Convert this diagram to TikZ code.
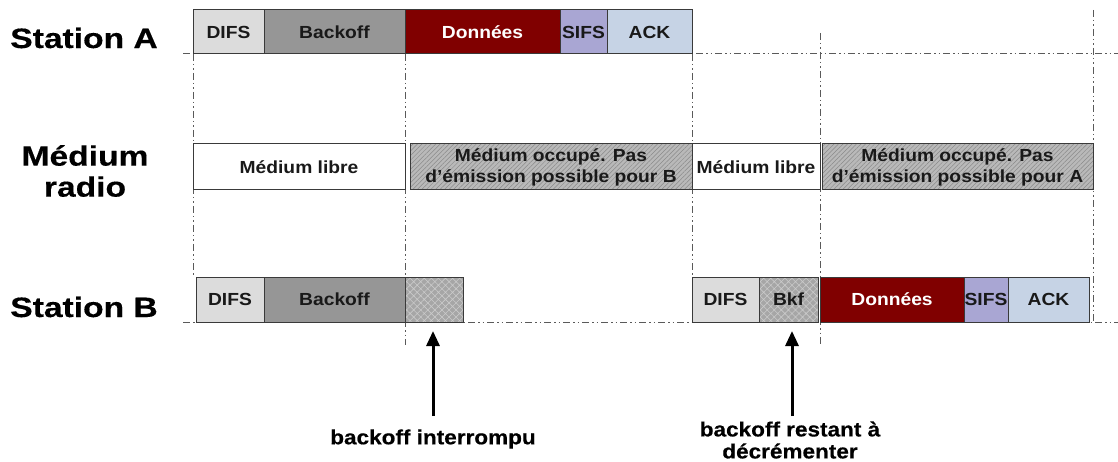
\documentclass[tikz,border=0pt]{standalone}
\usepackage{fontspec}
\setmainfont{Liberation Sans}
\newfontfamily\boxfont{Liberation Sans}[FakeStretch=1.1]
\newfontfamily\notefont{Liberation Sans}[FakeStretch=1.1, BoldFeatures={FakeBold=0.4}]
\newfontfamily\headfont{Liberation Sans}[FakeStretch=1.2, BoldFeatures={FakeBold=0.4}]
\usetikzlibrary{patterns.meta,arrows.meta}

\definecolor{edge}{HTML}{3A3A3A}
\definecolor{guidec}{HTML}{5A5A5A}
\definecolor{difsc}{HTML}{DCDCDC}
\definecolor{backc}{HTML}{969696}
\definecolor{datac}{HTML}{800000}
\definecolor{sifsc}{HTML}{A9A6D3}
\definecolor{ackc}{HTML}{C6D3E5}
\definecolor{busyc}{HTML}{B9B9B9}
\definecolor{busyl}{HTML}{8A8A8A}
\definecolor{remc}{HTML}{A6A6A6}
\definecolor{reml}{HTML}{CACACA}

\tikzset{
  slot/.style={draw=edge, line width=1pt, rectangle, inner sep=0pt, outer sep=0pt,
    font=\boxfont\bfseries\fontsize{17.5}{20}\selectfont, text=black!90},
  slotA/.style={slot, minimum height=44pt},
  slotM/.style={slot, minimum height=46pt, align=center,
    font=\boxfont\bfseries\fontsize{17.5}{21}\selectfont},
  slotB/.style={slot, minimum height=45pt},
  difs/.style={fill=difsc},
  bkoff/.style={fill=backc},
  data/.style={fill=datac, text=white},
  sifs/.style={fill=sifsc},
  ack/.style={fill=ackc},
  free/.style={fill=white},
  busy/.style={preaction={fill=busyc},
    pattern={Lines[angle=45,distance=3.2pt,line width=0.5pt]}, pattern color=busyl},
  remain/.style={preaction={fill=remc},
    pattern={Hatch[angle=45,distance=5pt,line width=0.6pt]}, pattern color=reml},
  guide/.style={draw=guidec, line width=1pt,
    dash pattern=on 7pt off 3pt on 1.5pt off 3pt on 1.5pt off 3pt},
  head/.style={font=\headfont\bfseries\fontsize{28}{31}\selectfont, align=center},
  note/.style={font=\notefont\bfseries\fontsize{20.5}{22}\selectfont, align=center},
  pointer/.style={line width=3pt, -{Triangle[width=13pt,length=15pt]}},
}

\begin{document}
\begin{tikzpicture}[x=1pt, y=-1pt]
\useasboundingbox (0,0) rectangle (1118,462);

% time axes of the two stations
\coordinate (axA0) at (183,54);   \coordinate (axA1) at (1118,54);
\coordinate (axB0) at (183,322);  \coordinate (axB1) at (1118,322);
\draw[guide] (axA0) -- (axA1);
\draw[guide] (axB0) -- (axB1);

% vertical time markers
\coordinate (v1a) at (193,54);   \coordinate (v1b) at (193,277);
\coordinate (v2a) at (405,54);   \coordinate (v2b) at (405,345);
\coordinate (v3a) at (692,54);   \coordinate (v3b) at (692,277);
\coordinate (v4a) at (820,33);   \coordinate (v4b) at (820,345);
\coordinate (v5a) at (1093,10);  \coordinate (v5b) at (1093,322);
\draw[guide] (v1a) -- (v1b);
\draw[guide] (v2a) -- (v2b);
\draw[guide] (v3a) -- (v3b);
\draw[guide] (v4a) -- (v4b);
\draw[guide] (v5a) -- (v5b);

% row labels
\node[head] (lA) at (84,38) {Station A};
\node[head] (lM) at (85,171) {Médium\\radio};
\node[head] (lB) at (84,307) {Station B};

% Station A
\node[slotA, difs,  minimum width=71pt]  (a1) at (228.5,32) {DIFS};
\node[slotA, bkoff, minimum width=141pt] (a2) at (334.5,32) {Backoff};
\node[slotA, data,  minimum width=155pt] (a3) at (482.5,32) {Données};
\node[slotA, sifs,  minimum width=47pt]  (a4) at (583.5,32) {SIFS};
\node[slotA, ack,   minimum width=85pt]  (a5) at (649.5,32) {ACK};

% radio medium
\node[slotM, free, minimum width=212pt] (m1) at (299,167) {Médium libre};
\node[slotM, busy, minimum width=282pt] (m2) at (551,167) {Médium occupé. Pas\\d’émission possible pour B};
\node[slotM, free, minimum width=128pt] (m3) at (756,167) {Médium libre};
\node[slotM, busy, minimum width=271pt] (m4) at (957.5,167) {Médium occupé. Pas\\d’émission possible pour A};

% Station B
\node[slotB, difs,   minimum width=68pt]  (b1) at (230,299.5) {DIFS};
\node[slotB, bkoff,  minimum width=141pt] (b2) at (334.5,299.5) {Backoff};
\node[slotB, remain, minimum width=58pt]  (b3) at (434,299.5) {};
\node[slotB, difs,   minimum width=67pt]  (b4) at (725.5,299.5) {DIFS};
\node[slotB, remain, minimum width=59pt]  (b5) at (788.5,299.5) {Bkf};
\node[slotB, data,   minimum width=144pt] (b6) at (892,299.5) {Données};
\node[slotB, sifs,   minimum width=44pt]  (b7) at (986,299.5) {SIFS};
\node[slotB, ack,    minimum width=81pt]  (b8) at (1048.5,299.5) {ACK};

% annotations
\node[note] (n1) at (433,439) {backoff interrompu};
\node[note] (n2) at (790,440) {backoff restant à\\décrémenter};
\coordinate (p1) at (433,331);  \coordinate (q1) at (433,416);
\coordinate (p2) at (792,331);  \coordinate (q2) at (792,416);
\draw[pointer] (q1) -- (p1);
\draw[pointer] (q2) -- (p2);
\end{tikzpicture}
\end{document}
